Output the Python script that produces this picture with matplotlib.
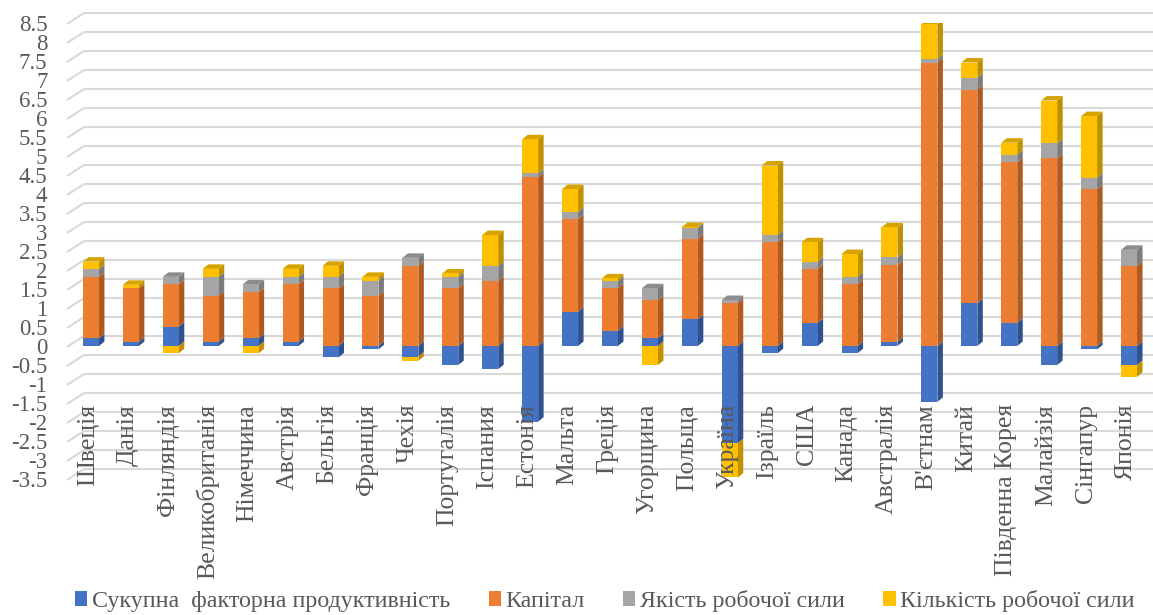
import matplotlib
matplotlib.use('Agg')
import matplotlib.pyplot as plt
import numpy as np
from matplotlib.patches import Patch

plt.rcParams['font.family'] = ['Liberation Serif', 'DejaVu Serif']

countries = ['Швеція', 'Данія', 'Фінляндія', 'Великобританія', 'Німеччина', 'Австрія',
             'Бельгія', 'Франція', 'Чехія', 'Португалія', 'Іспания', 'Естонія', 'Мальта',
             'Греція', 'Угорщина', 'Польща', 'Україна', 'Ізраїль', 'США', 'Канада',
             'Австралія', "В'єтнам", 'Китай', 'Південна Корея', 'Малайзія', 'Сінгапур', 'Японія']

tfp = [0.20, 0.11, 0.51, 0.11, 0.20, 0.11, -0.30, -0.09, -0.28, -0.50, -0.61, -1.99, 0.90,
       0.40, 0.20, 0.70, -2.56, -0.19, 0.61, -0.19, 0.11, -1.47, 1.12, 0.61, -0.50, -0.09, -0.50]
capital = [1.62, 1.41, 1.11, 1.21, 1.21, 1.51, 1.52, 1.32, 2.11, 1.52, 1.72, 4.44, 2.44,
           1.12, 1.01, 2.12, 1.12, 2.73, 1.42, 1.62, 2.02, 7.46, 5.63, 4.22, 4.94, 4.13, 2.11]
quality = [0.21, 0.00, 0.20, 0.50, 0.21, 0.20, 0.30, 0.40, 0.21, 0.30, 0.39, 0.10, 0.19,
           0.19, 0.31, 0.29, 0.09, 0.19, 0.19, 0.20, 0.20, 0.09, 0.31, 0.20, 0.39, 0.30, 0.42]
quantity = [0.19, 0.09, -0.19, 0.21, -0.19, 0.21, 0.29, 0.10, -0.11, 0.09, 0.81, 0.90, 0.60,
            0.07, -0.50, 0.02, -0.90, 1.83, 0.51, 0.60, 0.79, 0.92, 0.40, 0.32, 1.13, 1.62, -0.31]

series_names = ['Сукупна  факторна продуктивність', 'Капітал', 'Якість робочої сили',
                'Кількість робочої сили']
series_vals = [tfp, capital, quality, quantity]
front_colors = ['#4472c4', '#ed7d31', '#a5a5a5', '#ffc000']
side_colors = ['#2f528f', '#ae5a21', '#7b7b7b', '#bf9000']
top_colors = ['#3a62a8', '#c9662a', '#8c8c8c', '#d6a300']

y_ticks = np.arange(-3.5, 8.51, 0.5)

W, H = 1153, 615
fig = plt.figure(figsize=(W / 100, H / 100), dpi=100)
ax_l, ax_r, ax_t, ax_b = 71, 1149, 23, 479
ax = fig.add_axes([ax_l / W, (H - ax_b) / H, (ax_r - ax_l) / W, (ax_b - ax_t) / H])
ax.set_xlim(-0.5, len(countries) - 0.5)
ax.set_ylim(-3.5, 8.5)
for s in ax.spines.values():
    s.set_visible(False)

px_x = (ax_r - ax_l) / len(countries)
px_y = (ax_b - ax_t) / 12.0

# back wall gridlines (oblique 3D offset)
wall_dx, wall_dy = 13 / px_x, 10 / px_y
grid_c = '#d9d9d9'
x0 = -0.5
x1 = len(countries) - 0.5
for v in y_ticks:
    ax.plot([x0 - 4 / px_x, x0 + wall_dx], [v - 1 / px_y, v + wall_dy], color=grid_c, lw=1.5,
            zorder=0, clip_on=False, solid_capstyle='butt')
    ax.plot([x0 + wall_dx, x1 + wall_dx], [v + wall_dy, v + wall_dy], color=grid_c, lw=1.5,
            zorder=0, clip_on=False, solid_capstyle='butt')

x = np.arange(len(countries))
width = 0.4
pos_bottom = np.zeros(len(countries))
neg_bottom = np.zeros(len(countries))
depth_dx, depth_dy = 5.5 / px_x, 4.5 / px_y

all_patches = []
for k, vals in enumerate(series_vals):
    vals = np.array(vals, dtype=float)
    bottoms = np.where(vals >= 0, pos_bottom, neg_bottom)
    bars = ax.bar(x, vals, width, bottom=bottoms, color=front_colors[k], zorder=2,
                  linewidth=0)
    for b in bars:
        all_patches.append((b, k))
    pos_bottom = pos_bottom + np.where(vals >= 0, vals, 0)
    neg_bottom = neg_bottom + np.where(vals < 0, vals, 0)

# side faces
for b, k in all_patches:
    h = b.get_height()
    if abs(h) < 1e-9:
        continue
    xr = b.get_x() + b.get_width()
    y0 = b.get_y()
    y1 = y0 + h
    ax.fill([xr, xr + depth_dx, xr + depth_dx, xr],
            [y0, y0 + depth_dy, y1 + depth_dy, y1], color=side_colors[k], zorder=1.9,
            linewidth=0)

# top faces on positive stacks
for i in range(len(countries)):
    top = pos_bottom[i]
    kk = None
    for k in range(len(series_vals) - 1, -1, -1):
        if series_vals[k][i] > 0:
            kk = k
            break
    if kk is None:
        continue
    xl = x[i] - width / 2
    xr = x[i] + width / 2
    ax.fill([xl, xr, xr + depth_dx, xl + depth_dx],
            [top, top, top + depth_dy, top + depth_dy], color=top_colors[kk], zorder=1.95,
            linewidth=0)

ax.set_yticks(y_ticks)
ax.set_yticklabels(['{:g}'.format(v) for v in y_ticks])
ax.tick_params(axis='y', length=0, pad=17, labelsize=16.5, labelcolor='#595959')
ax.set_xticks([])

for i, name in enumerate(countries):
    ax.text(x[i] - 3 / px_x, -1.52, name, rotation=90, ha='center', va='top', fontsize=18.5,
            color='#595959', zorder=5)

handles = [Patch(facecolor=c, edgecolor='none') for c in front_colors]
fig.legend(handles, series_names, loc='center', bbox_to_anchor=(605 / W, (H - 601) / H),
           ncol=4, frameon=False, prop={'family': 'Liberation Serif', 'size': 17.3},
           handlelength=0.5, handleheight=0.6,
           handletextpad=0.2, columnspacing=1.6, labelcolor='#595959')

fig.savefig('out.png', dpi=100)
